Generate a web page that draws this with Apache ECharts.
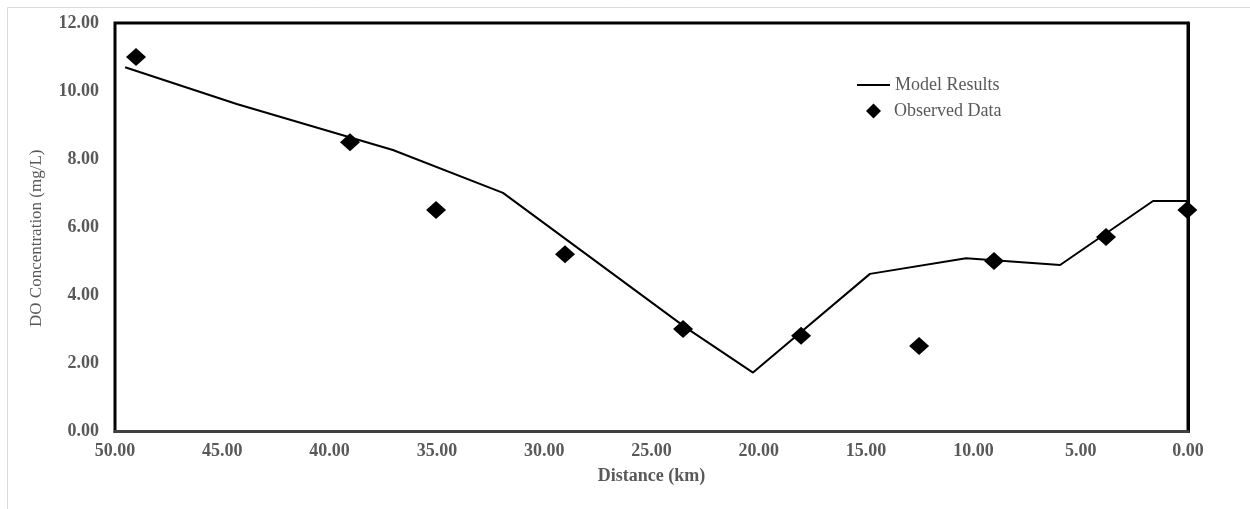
<!DOCTYPE html>
<html>
<head>
<meta charset="utf-8">
<script src="https://cdn.jsdelivr.net/npm/echarts@6/dist/echarts.min.js"></script>
<style>
html,body{margin:0;padding:0;background:#fff;}
#chart{width:1250px;height:509px;}
</style>
</head>
<body>
<div id="chart"></div>
<script>
// Model results: distance (km), DO (mg/L)
const modelDistance = [49.53, 44.33, 37.05, 31.92, 23.40, 20.27, 14.82, 10.34, 5.96, 1.63, 0.00];
const modelDO       = [10.70, 9.62, 8.27, 7.01, 3.05, 1.73, 4.63, 5.09, 4.89, 6.77, 6.77];
// Observed data
const obsDistance = [49.02, 39.05, 35.04, 29.03, 23.53, 18.03, 12.53, 9.04, 3.82, 0.03];
const obsDO       = [11.00, 8.50, 6.51, 5.21, 3.01, 2.81, 2.51, 5.01, 5.71, 6.51];

const xTicks = { min: 0, max: 50, interval: 5 };
const yTicks = { min: 0, max: 12, interval: 2 };

const FONT = '"Liberation Serif", "Times New Roman", serif';
const GREY = '#595959';

const chart = echarts.init(document.getElementById('chart'), null, { renderer: 'canvas' });
chart.setOption({
  animation: false,
  backgroundColor: '#fff',
  graphic: [{
    type: 'rect', left: 5, top: 5, silent: true, z: -1,
    shape: { width: 1300, height: 600 },
    style: { fill: 'none', stroke: '#d9d9d9', lineWidth: 1 }
  }],
  grid: {
    left: 115, right: 62, top: 23, bottom: 77.5,
    show: true, borderColor: '#000', borderWidth: 3, backgroundColor: 'transparent'
  },
  legend: [
    {
      orient: 'vertical',
      left: 852, top: 71,
      itemWidth: 33, itemHeight: 2,
      icon: 'rect',
      textStyle: { fontFamily: FONT, fontSize: 18, color: GREY },
      data: [{ name: 'Model Results', itemStyle: { color: '#000' } }]
    },
    {
      orient: 'vertical',
      left: 861, top: 97,
      itemWidth: 15, itemHeight: 15,
      icon: 'diamond',
      textStyle: { fontFamily: FONT, fontSize: 18, color: GREY, padding: [0, 0, 0, 8] },
      data: [{ name: 'Observed Data', itemStyle: { color: '#000', opacity: 1 } }]
    }
  ],
  xAxis: {
    type: 'value', inverse: true,
    min: xTicks.min, max: xTicks.max, interval: xTicks.interval,
    name: 'Distance (km)', nameLocation: 'middle', nameGap: 36,
    nameTextStyle: { fontFamily: FONT, fontSize: 18, fontWeight: 'bold', color: GREY },
    axisLine: { show: true, lineStyle: { color: '#404040', width: 3 } },
    axisTick: { show: false },
    splitLine: { show: false },
    axisLabel: {
      formatter: v => v.toFixed(2), margin: 11,
      fontFamily: FONT, fontSize: 18, fontWeight: 'bold', color: GREY
    }
  },
  yAxis: {
    type: 'value',
    min: yTicks.min, max: yTicks.max, interval: yTicks.interval,
    name: 'DO Concentration (mg/L)', nameLocation: 'middle', nameGap: 70,
    nameTextStyle: { fontFamily: FONT, fontSize: 17, color: GREY, padding: [0, 22, 0, 0] },
    axisLine: { show: true, lineStyle: { color: '#000', width: 3 } },
    axisTick: { show: false },
    splitLine: { show: false },
    axisLabel: {
      formatter: v => v.toFixed(2), margin: 16,
      fontFamily: FONT, fontSize: 18, fontWeight: 'bold', color: GREY
    }
  },
  series: [
    {
      name: 'Model Results', type: 'line',
      data: modelDistance.map((d, i) => [d, modelDO[i]]),
      symbol: 'none', smooth: false,
      lineStyle: { color: '#000', width: 2 },
      itemStyle: { color: '#000' },
      z: 2
    },
    {
      name: 'Observed Data', type: 'scatter',
      data: obsDistance.map((d, i) => [d, obsDO[i]]),
      symbol: 'diamond', symbolSize: [20, 18],
      itemStyle: { color: '#000', opacity: 1 },
      z: 3
    }
  ]
});
</script>
</body>
</html>
